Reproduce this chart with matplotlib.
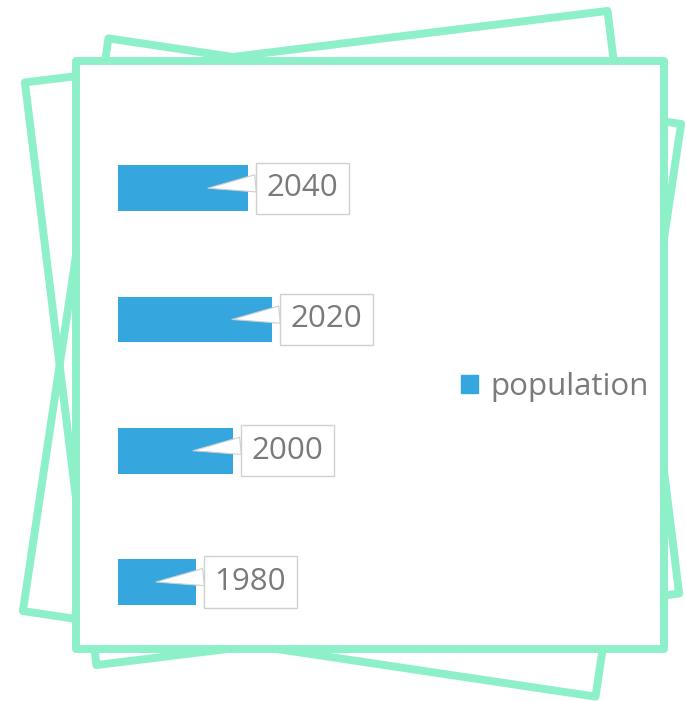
import matplotlib.pyplot as plt
from matplotlib.patches import Rectangle, Patch
from matplotlib.transforms import Affine2D

# population by year (arbitrary units)
years = ["1980", "2000", "2020", "2040"]
population = [3.9, 5.75, 7.7, 6.5]
series_name = "population"

W, H, DPI = 686, 701, 100
MINT = "#8df0c9"
BLUE = "#36a6de"
GREY_TEXT = "#7a7a7a"
px2pt = 72 / DPI
FS = 22.5

plt.rcParams["font.family"] = ["Open Sans", "DejaVu Sans"]

fig = plt.figure(figsize=(W / DPI, H / DPI), dpi=DPI)
fig.patch.set_facecolor("white")

# decorative frames, drawn in pixel coordinates
bg = fig.add_axes([0, 0, 1, 1])
bg.set_xlim(0, W)
bg.set_ylim(H, 0)
bg.axis("off")

def tilted_square(cx, cy, side, angle):
    sq = Rectangle((-side / 2, -side / 2), side, side, fill=False,
                   ec=MINT, lw=5.7, joinstyle="round")
    sq.set_transform(Affine2D().rotate_deg(angle).translate(cx, cy) + bg.transData)
    bg.add_patch(sq)

tilted_square(352, 367.5, 579, 8.5)
tilted_square(352, 338, 587, -7.0)
bg.add_patch(Rectangle((75.5, 61), 588, 587.5, fc="white", ec=MINT,
                       lw=5.7, joinstyle="round"))

# bar chart
ax = fig.add_axes([118 / W, (H - 647.6) / H, 320 / W, 525 / H])
ax.set_facecolor("none")
ypos = list(range(len(years)))
ax.barh(ypos, population, height=0.35, color=BLUE, zorder=2)
ax.set_xlim(0, 16)
ax.set_ylim(-0.5, len(years) - 0.5)
ax.axis("off")

px_per_unit = 320 / 16
tip_back = 40 / px_per_unit
pad_px = 0.34 * FS / px2pt
for y, v, lab in zip(ypos, population, years):
    ax.annotate(lab, xy=(v - tip_back, y), xycoords="data",
                xytext=((40 + 8 + pad_px) * px2pt, 0), textcoords="offset points",
                ha="left", va="center", fontsize=FS, color=GREY_TEXT, zorder=3,
                bbox=dict(boxstyle="square,pad=0.34", fc="white", ec="#d0d0d0", lw=1),
                arrowprops=dict(arrowstyle="wedge,tail_width=0.62", fc="white",
                                ec="#cfcfcf", lw=0.8, relpos=(0, 0.7),
                                shrinkA=0, shrinkB=0, mutation_scale=20))

ax.legend(handles=[Patch(color=BLUE)], labels=[series_name],
          loc="center left", bbox_to_anchor=(461 / W, 1 - 387 / H),
          bbox_transform=fig.transFigure, frameon=False, fontsize=FS,
          labelcolor=GREY_TEXT, handlelength=0.55, handleheight=0.55,
          handletextpad=0.38, borderpad=0, borderaxespad=0)

fig.savefig("out.png", dpi=DPI, facecolor="white")
